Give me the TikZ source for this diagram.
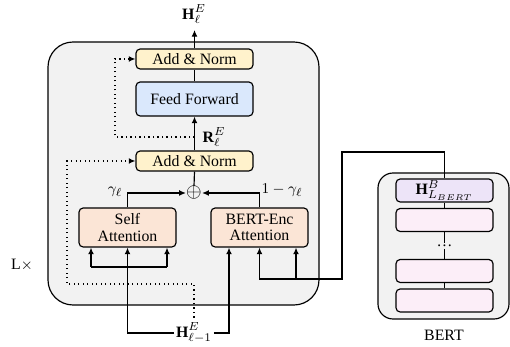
\documentclass[tikz,border=0pt]{standalone}
\usepackage{fontspec}
\setmainfont{Liberation Serif}
\usepackage{amsmath}
\usepackage{amssymb}
\usepackage{tikz}
\usetikzlibrary{arrows.meta,positioning,calc}

\definecolor{normcol}{HTML}{FFF2CC}
\definecolor{ffcol}{HTML}{DAE8FC}
\definecolor{attcol}{HTML}{FBE5D6}
\definecolor{toplayer}{HTML}{EDE4F8}
\definecolor{layercol}{HTML}{FCEEF8}
\definecolor{blockcol}{HTML}{F2F2F2}

\begin{document}
\begin{tikzpicture}[
  x=0.6pt,y=-0.6pt,
  font=\fontsize{9.5}{11}\selectfont,
  block/.style={draw,fill=blockcol,line width=0.7pt},
  sub/.style={draw,rounded corners=2.5pt,line width=0.7pt,inner sep=0pt,align=center},
  normbox/.style={sub,fill=normcol,minimum width=70.2pt,minimum height=12pt},
  attbox/.style={sub,fill=attcol,minimum width=58.2pt,minimum height=23.4pt},
  layer/.style={sub,fill=layercol,minimum width=58.2pt,minimum height=13.8pt},
  arr/.style={line width=0.7pt,-{Latex[length=4pt,width=3.5pt]}},
  edge/.style={line width=0.7pt},
  res/.style={line width=0.7pt,dotted,-{Latex[length=4pt,width=3.5pt]}},
  lab/.style={inner sep=1pt}
]
\useasboundingbox (0,0) rectangle (510,347);

% ---------------- decoder block ----------------
\node[block,rounded corners=15pt,minimum width=162.6pt,minimum height=157.8pt] (dec) at (183.5,173.5) {};
\node[lab] (rep) at (22,265) {L$\times$};

\node[normbox] (addtop) at (194.5,59) {Add \& Norm};
\node[sub,fill=ffcol,minimum width=70.2pt,minimum height=20.4pt] (ff) at (194.5,99) {Feed Forward};
\node[normbox] (addlow) at (194.5,161) {Add \& Norm};
\node[inner sep=0pt,font=\large] (plus) at (194,193) {$\oplus$};
\node[attbox] (selfatt) at (127.5,227.5) {Self\\[-1pt]Attention};
\node[attbox] (bertatt) at (259.5,227.5) {BERT-Enc\\[-1pt]Attention};

% labels
\node[lab] (hout) at (194,14) {$\mathbf{H}_{\ell}^{E}$};
\node[lab] (hin) at (194,333) {$\mathbf{H}_{\ell-1}^{E}$};
\node[lab] (rlab) at (214,137) {$\mathbf{R}_{\ell}^{E}$};
\node[lab] (gam) at (115,192) {$\gamma_{\ell}$};
\node[lab] (gamc) at (282,190) {$1-\gamma_{\ell}$};

\coordinate (out) at (194.5,30);
\coordinate (rpt) at (194.5,137);

% main path
\draw[arr] (addtop.north) -- (out);
\draw[edge] (ff.north) -- (addtop.south);
\draw[arr] (addlow.north) -- (ff.south);
\draw[edge] (addlow.south) -- (plus.north);
\draw[arr] (selfatt.north) |- (plus.west);
\draw[arr] (bertatt.north) |- (plus.east);

% residual connections
\draw[res] (rpt) -- (115,137) |- (addtop.west);
\draw[res] ([yshift=2pt]hin.north) |- (67,284) |- (addlow.west);

% inputs of self attention
\coordinate (sq) at (91,267);
\coordinate (sv) at (167,267);
\draw[edge] (sq) -- (sv);
\draw[arr] (sq) -- (sq |- selfatt.south);
\draw[arr] (sv) -- (sv |- selfatt.south);
\draw[arr] (hin.west) -| (selfatt.south);
\draw[arr] (hin.east) -| ([xshift=-18.3pt]bertatt.south);

% ---------------- BERT ----------------
\node[block,rounded corners=9pt,minimum width=78.6pt,minimum height=87.6pt] (bert) at (443.5,246) {};
\node[sub,fill=toplayer,minimum width=58.2pt,minimum height=13.8pt] (b1) at (444.5,190.5) {$\mathbf{H}_{L_{BERT}}^{B}$};
\node[layer] (b2) at (444.5,220) {};
\node[inner sep=1pt] (bdots) at (444.5,246) {\ldots};
\node[layer] (b3) at (444.5,271) {};
\node[layer] (b4) at (444.5,300.5) {};
\node[lab] (bertlab) at (444,335) {BERT};

\draw[edge] (b1.south) -- (b2.north);
\draw[edge] (b2.south) -- (bdots.north);
\draw[edge] (bdots.south) -- (b3.north);
\draw[edge] (b3.south) -- (b4.north);

% keys and values from BERT
\coordinate (kvtop) at (342,152);
\coordinate (kvbot) at (342,279);
\coordinate (kvmid) at (296,279);
\draw[arr] (b1.north) |- (kvtop) -- (kvbot) -| (bertatt.south);
\draw[arr] (kvmid) -- (kvmid |- bertatt.south);

\end{tikzpicture}
\end{document}
